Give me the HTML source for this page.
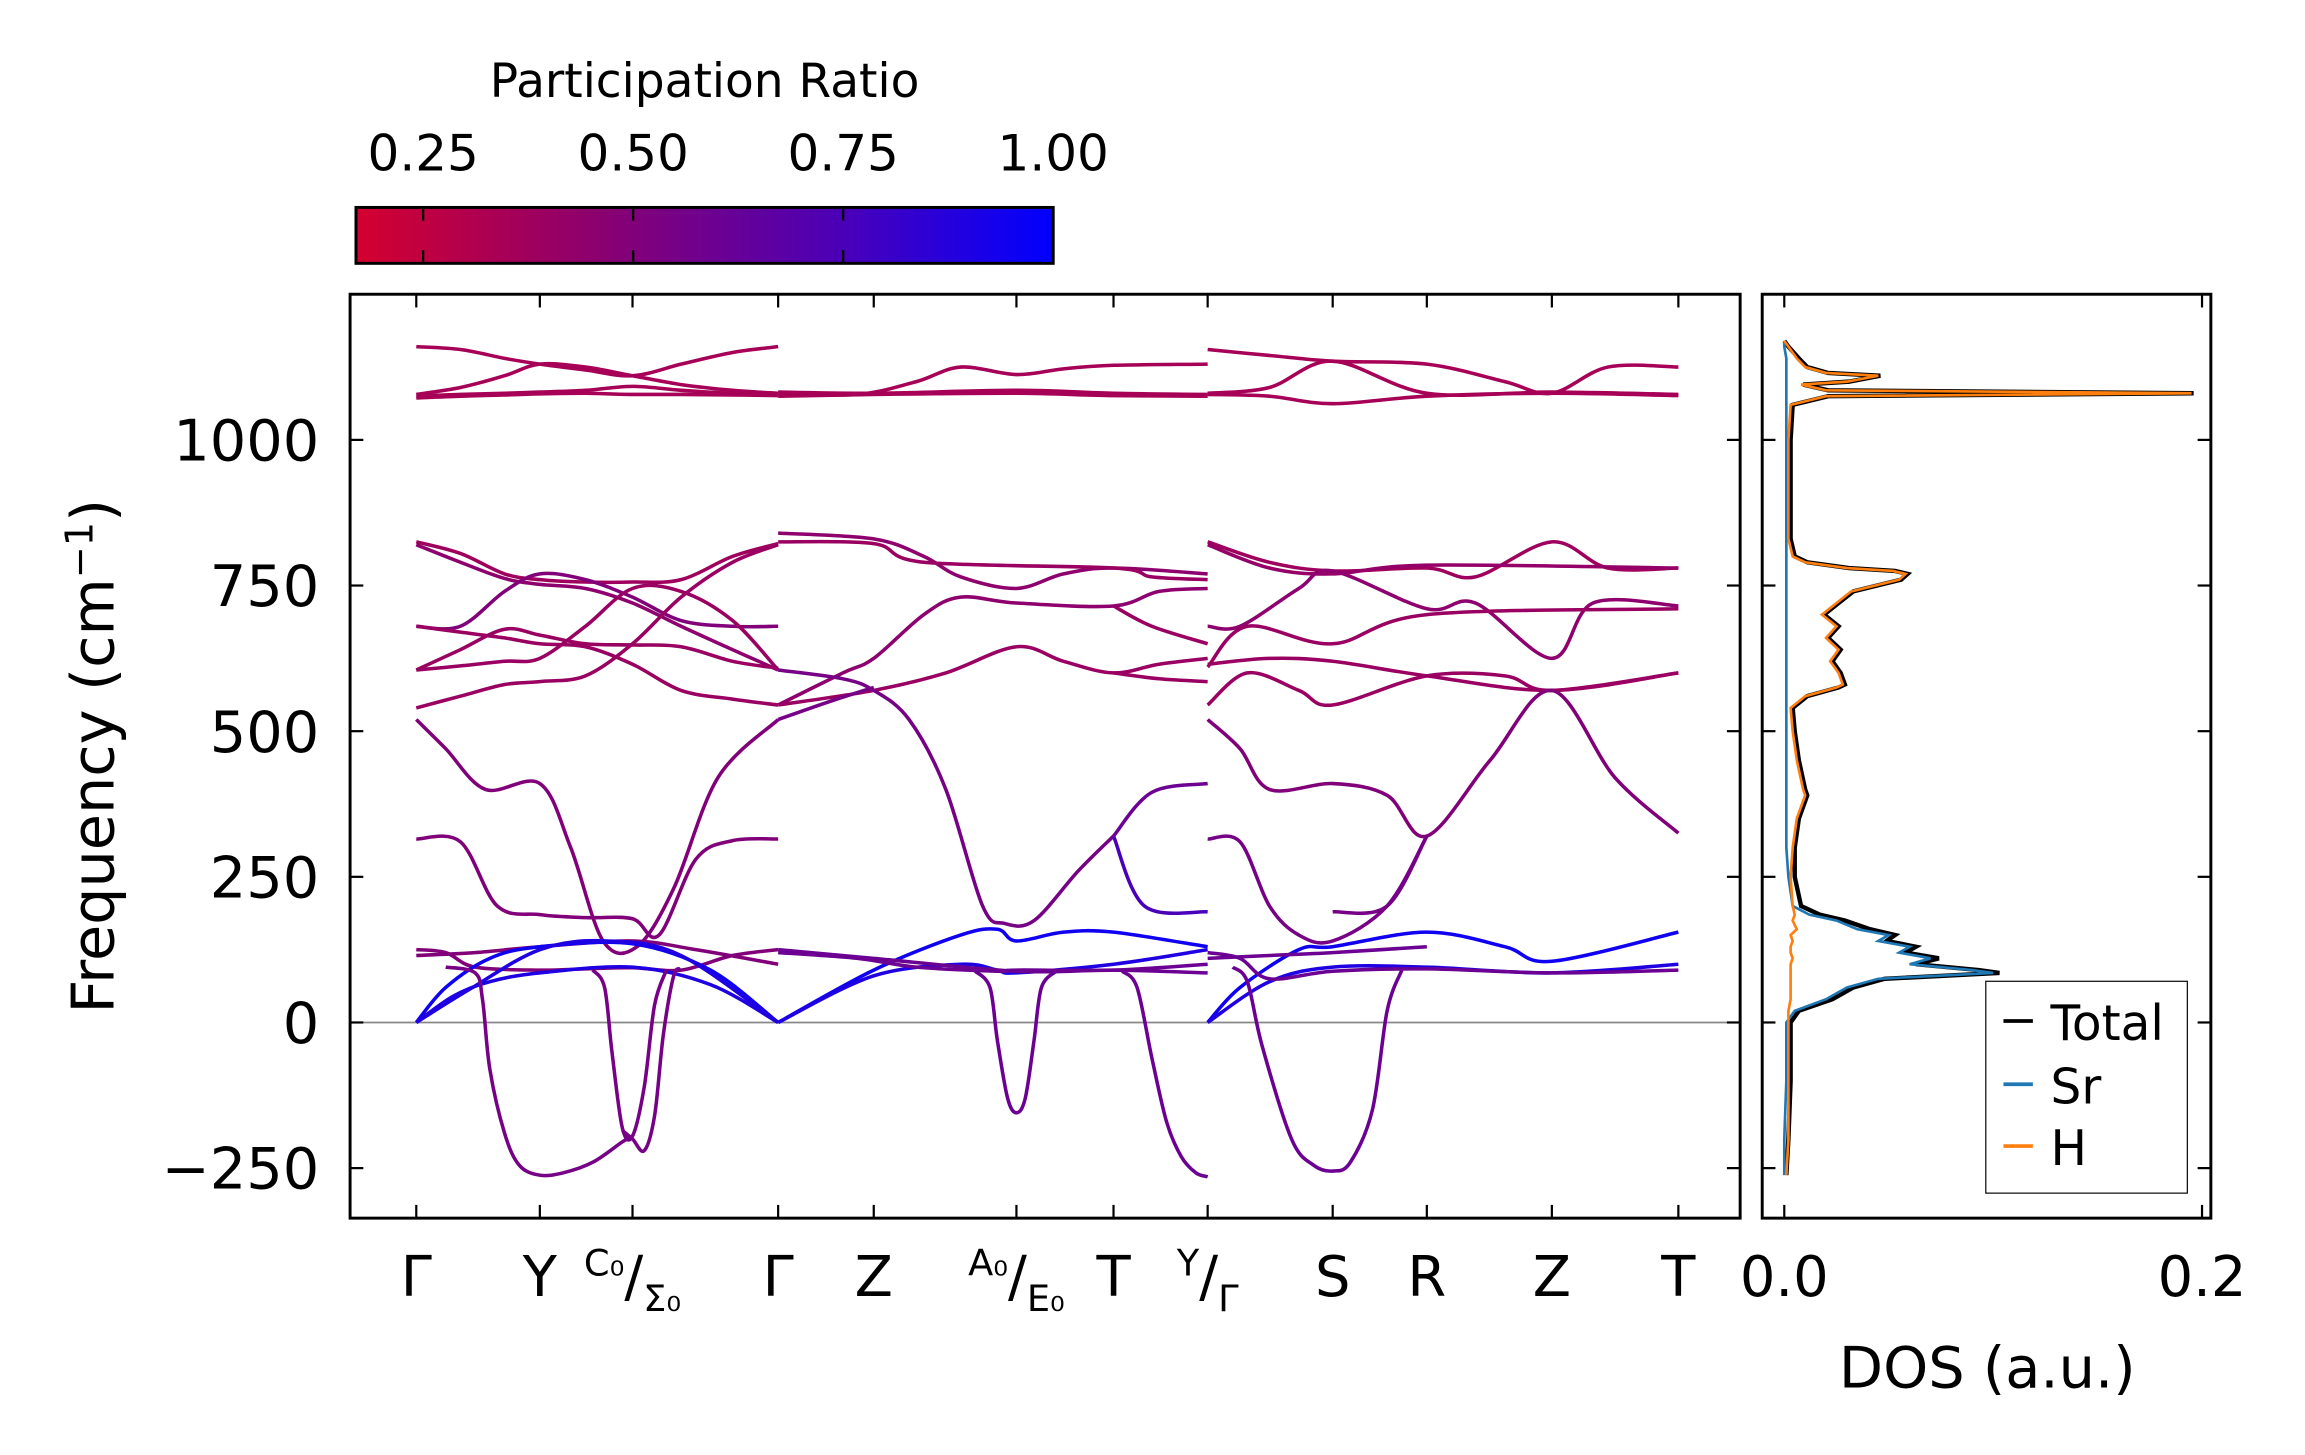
<!DOCTYPE html>
<html><head><meta charset="utf-8"><style>
html,body{margin:0;padding:0;background:#fff;}
svg{display:block;font-family:"DejaVu Sans","Liberation Sans",sans-serif;}
</style></head><body>
<svg id="chart" width="2305" height="1455" viewBox="0 0 1567 989" preserveAspectRatio="none" xmlns="http://www.w3.org/2000/svg">
<defs>
<linearGradient id="cbgrad" x1="0" x2="1" y1="0" y2="0">
<stop offset="0" stop-color="#d4002f"/>
<stop offset="0.35" stop-color="#8a0070"/>
<stop offset="0.7" stop-color="#4a00b8"/>
<stop offset="1" stop-color="#0000ff"/>
</linearGradient>
<clipPath id="mainclip"><rect x="238" y="200" width="945" height="628"/></clipPath>
<clipPath id="dosclip"><rect x="1198" y="200" width="305" height="628"/></clipPath>
</defs>
<g id="colorbar">
<text x="479" y="66" font-size="32" text-anchor="middle">Participation Ratio</text>
<rect x="242" y="141" width="474" height="38" fill="url(#cbgrad)" stroke="#000" stroke-width="2"/>
</g>
<g id="main">
<line x1="238" x2="1183" y1="695" y2="695" stroke="#888" stroke-width="1.2"/>
<g id="bands" clip-path="url(#mainclip)"></g>
<rect x="238" y="200" width="945" height="628" fill="none" stroke="#000" stroke-width="2"/>
<g id="mainticks"></g>
<text transform="translate(77,514) rotate(-90)" font-size="40" text-anchor="middle">Frequency (cm<tspan font-size="26" dy="-14">−1</tspan><tspan dy="14">)</tspan></text>
</g>
<g id="dos">
<g id="doslines" clip-path="url(#dosclip)"></g>
<rect x="1198" y="200" width="305" height="628" fill="none" stroke="#000" stroke-width="2"/>
<g id="dosticks"></g>
<text x="1351" y="943" font-size="39" text-anchor="middle">DOS (a.u.)</text>
<g>
<rect x="1350" y="667" width="137" height="144" fill="#fff" stroke="#000" stroke-width="0.8"/>
<line x1="1362" x2="1382" y1="694" y2="694" stroke="#000" stroke-width="2.5"/>
<text x="1394" y="707" font-size="33">Total</text>
<line x1="1362" x2="1382" y1="737" y2="737" stroke="#1f77b4" stroke-width="2.5"/>
<text x="1394" y="750" font-size="33">Sr</text>
<line x1="1362" x2="1382" y1="779" y2="779" stroke="#ff7f0e" stroke-width="2.5"/>
<text x="1394" y="792" font-size="33">H</text>
</g>
</g>
</svg>
<script>
// ---------- data ----------
const yTicks = [-250, 0, 250, 500, 750, 1000];
const cbTicks = [0.25, 0.5, 0.75, 1.0];
const kLabels = ["Γ","Y","C0/Σ0","Γ","Z","A0/E0","T","Y/Γ","S","R","Z","T"];
const kPositions = [0,84,147,246,311,408,474,538,623,687,772,858];
const bandK1 = [0,30,60,84,115,147,180,215,246];
const seg1 = [
 [0.35,bandK1,[1160,1155,1140,1130,1120,1110,1130,1150,1160]],
 [0.35,bandK1,[1078,1090,1110,1130,1125,1110,1095,1085,1080]],
 [0.35,bandK1,[1075,1078,1080,1082,1085,1092,1085,1080,1078]],
 [0.35,bandK1,[1072,1075,1077,1079,1080,1078,1078,1077,1076]],
 [0.38,bandK1,[825,805,770,760,756,756,760,800,822]],
 [0.45,bandK1,[820,790,762,752,745,720,680,640,605]],
 [0.5,bandK1,[680,680,740,770,760,730,690,680,680]],
 [0.4,bandK1,[605,640,675,665,650,648,645,620,608]],
 [0.4,bandK1,[605,612,620,625,680,745,740,690,605]],
 [0.4,bandK1,[540,560,580,585,595,650,730,790,820]],
 [0.4,bandK1,[680,670,660,650,645,615,570,555,545]],
 [0.5,[0,20,47,84,105,127,150,175,205,246],[520,470,400,410,300,140,130,230,420,520]],
 [0.5,[0,30,55,84,115,147,165,190,215,246],[315,310,200,185,180,178,150,280,312,315]],
 [0.5,[0,20,40,84,115,147,180,215,246],[125,120,95,90,92,94,90,115,125]],
 [0.5,[0,40,84,147,190,246],[115,120,130,140,125,100]],
 [0.95,[0,20,50,84,147,200,246],[0,60,110,130,135,90,0]],
 [0.9,[0,25,50,84,147,200,246],[0,45,70,85,95,65,0]],
 [0.9,[0,35,84,130,180,246],[0,55,125,140,115,0]],
 [0.55,[20,40,45,50,60,70,84,100,120,140,147],[95,85,40,-80,-190,-245,-262,-258,-240,-205,-195]],
 [0.55,[120,128,133,140,147,155,162,170],[90,60,-50,-180,-195,-110,30,90]],
 [0.55,[140,147,155,162,168,175,180],[-185,-200,-220,-160,-20,80,92]]
];
const seg2 = [
 [0.35,[246,300,340,370,408,440,474,538],[1080,1078,1100,1125,1112,1122,1128,1130]],
 [0.35,[246,311,408,474,538],[1082,1080,1085,1080,1078]],
 [0.35,[246,311,408,474,538],[1075,1078,1080,1076,1075]],
 [0.45,[246,311,345,370,408,440,474,538],[840,830,800,765,745,770,780,770]],
 [0.4,[246,311,345,474,500,538],[825,822,790,780,765,760]],
 [0.45,[246,290,311,345,370,408,474,505,538],[545,600,625,700,730,720,715,740,745]],
 [0.4,[474,500,538],[715,680,650]],
 [0.4,[246,311,360,408,440,474,505,538],[545,570,600,645,620,600,615,625]],
 [0.4,[474,505,538],[600,590,585]],
 [0.55,[246,290,311,335,360,385,400,420,450,474],[605,590,570,520,400,200,170,175,260,320]],
 [0.55,[246,280,311],[520,550,575]],
 [0.6,[474,500,538],[320,395,410]],
 [0.75,[474,495,538],[320,200,190]],
 [0.95,[246,311,370,395,408,440,474,538],[0,90,150,160,140,155,155,130]],
 [0.9,[246,311,370,395,408,474,538],[0,80,100,90,85,100,125]],
 [0.6,[246,311,408,474,538],[125,110,88,90,85]],
 [0.6,[246,300,340,395,408,474,538],[120,110,95,88,90,90,100]],
 [0.6,[380,390,395,402,408,414,420,425,435],[88,60,-30,-130,-155,-130,-30,60,88]],
 [0.6,[480,490,500,510,520,530,538],[88,60,-60,-170,-230,-258,-265]]
];
const seg3 = [
 [0.35,[538,580,623,687,740,772,810,858],[1155,1145,1135,1130,1100,1080,1125,1125]],
 [0.35,[538,580,623,687,772,858],[1080,1090,1135,1080,1082,1078]],
 [0.35,[538,580,623,687,772,858],[1078,1075,1062,1075,1080,1076]],
 [0.38,[538,580,623,687,720,772,810,858],[825,790,775,780,765,825,780,780]],
 [0.42,[538,580,623,687,858],[820,780,770,785,780]],
 [0.45,[538,560,600,623,687,720,772,800,858],[680,680,745,775,710,720,625,720,715]],
 [0.4,[538,565,623,687,858],[610,680,650,700,710]],
 [0.4,[538,580,623,687,772,858],[615,625,620,595,570,600]],
 [0.4,[538,565,600,623,687,740,772,858],[545,600,570,545,595,595,570,600]],
 [0.5,[538,560,580,623,660,687,730,772,815,858],[520,470,400,410,390,320,450,570,420,325]],
 [0.55,[538,560,580,600,623,660,687],[315,310,200,150,140,200,320]],
 [0.55,[623,660,687],[190,200,320]],
 [0.95,[538,560,600,623,687,740,772,858],[0,60,125,130,155,130,105,155]],
 [0.9,[538,580,623,687,772,858],[0,70,95,95,85,100]],
 [0.6,[538,560,580,623,687,772,858],[120,110,75,88,92,85,90]],
 [0.6,[538,580,623,687],[110,115,120,130]],
 [0.6,[555,565,575,595,610,623,635,650,660,670],[95,70,-40,-200,-245,-255,-240,-150,20,90]]
];
// DOS
const dosFreq = [-262,-200,-100,0,20,40,60,75,85,90,100,110,120,130,140,150,160,175,185,200,250,300,350,390,400,450,500,540,560,575,580,600,620,640,660,680,700,720,740,760,770,775,780,790,800,830,1000,1060,1075,1080,1085,1095,1100,1110,1115,1125,1140,1160,1170];
const dosH = [0.001,0.002,0.002,0.002,0.002,0.003,0.003,0.003,0.003,0.003,0.003,0.004,0.003,0.003,0.004,0.003,0.006,0.004,0.005,0.004,0.003,0.004,0.006,0.01,0.009,0.006,0.004,0.003,0.01,0.025,0.028,0.026,0.022,0.026,0.02,0.025,0.018,0.025,0.032,0.055,0.058,0.052,0.03,0.01,0.004,0.002,0.002,0.003,0.02,0.195,0.02,0.008,0.03,0.045,0.02,0.01,0.006,0.002,0];
const dosSr = [0,0,0.001,0.001,0.005,0.02,0.03,0.045,0.1,0.09,0.06,0.07,0.055,0.06,0.045,0.05,0.035,0.025,0.012,0.004,0.002,0.001,0.001,0.001,0.001,0.001,0.001,0.001,0.001,0.001,0.001,0.001,0.001,0.001,0.001,0.001,0.001,0.001,0.001,0.001,0.001,0.001,0.001,0.001,0.001,0.001,0.001,0.001,0.001,0.001,0.001,0.001,0.001,0.001,0.001,0.001,0.001,0,0];
const dosTicks = [0.0, 0.2];

// ---------- axes ----------
const NS="http://www.w3.org/2000/svg";
const yS = f => 695 - f*(396/1000);
const kS = k => 283 + k;
const dS = d => 1213 + d*(284/0.2);
const cbS = v => 242 + (v-0.17)*(474/0.83);
function mk(tag, attrs, parent){const e=document.createElementNS(NS,tag);for(const a in attrs)e.setAttribute(a,attrs[a]);parent.appendChild(e);return e;}
function prColor(p){
  const t=Math.max(0,Math.min(1,(p-0.17)/0.83));
  const stops=[[0,[212,0,47]],[0.35,[138,0,112]],[0.7,[74,0,184]],[1,[0,0,255]]];
  for(let i=0;i<stops.length-1;i++){const a=stops[i],b=stops[i+1];if(t<=b[0]){const u=(t-a[0])/(b[0]-a[0]);return 'rgb('+a[1].map((c,j)=>Math.round(c+(b[1][j]-c)*u)).join(',')+')';}}
  return 'rgb(0,0,255)';
}
function smooth(pts){
  let d='M'+pts[0][0].toFixed(1)+','+pts[0][1].toFixed(1);
  for(let i=0;i<pts.length-1;i++){
    const p0=pts[Math.max(0,i-1)],p1=pts[i],p2=pts[i+1],p3=pts[Math.min(pts.length-1,i+2)];
    const c1=[p1[0]+(p2[0]-p0[0])/6,p1[1]+(p2[1]-p0[1])/6];
    const c2=[p2[0]-(p3[0]-p1[0])/6,p2[1]-(p3[1]-p1[1])/6];
    d+='C'+c1.map(v=>v.toFixed(1)).join(',')+' '+c2.map(v=>v.toFixed(1)).join(',')+' '+p2[0].toFixed(1)+','+p2[1].toFixed(1);
  }
  return d;
}
const bandsG=document.getElementById('bands');
[seg1,seg2,seg3].forEach(seg=>seg.forEach(b=>{
  const pts=b[1].map((k,i)=>[kS(k),yS(b[2][i])]);
  const p=mk('path',{d:smooth(pts),fill:'none',stroke:prColor(b[0]),'stroke-width':2.4},bandsG);
  
  
}));
const mt=document.getElementById('mainticks');
yTicks.forEach(v=>{
  const y=yS(v);
  mk('line',{x1:238,x2:247,y1:y,y2:y,stroke:'#000','stroke-width':1.5},mt);
  mk('line',{x1:1174,x2:1183,y1:y,y2:y,stroke:'#000','stroke-width':1.5},mt);
  const t=mk('text',{x:217,y:y+14,'font-size':39,'text-anchor':'end'},mt);
  t.textContent=v<0?'−'+Math.abs(v):String(v);
  
  
  mk('line',{x1:1198,x2:1207,y1:y,y2:y,stroke:'#000','stroke-width':1.5},mt);
  mk('line',{x1:1494,x2:1503,y1:y,y2:y,stroke:'#000','stroke-width':1.5},mt);
});
kPositions.forEach((k,i)=>{
  const x=kS(k);
  mk('line',{x1:x,x2:x,y1:200,y2:209,stroke:'#000','stroke-width':1.5},mt);
  mk('line',{x1:x,x2:x,y1:819,y2:828,stroke:'#000','stroke-width':1.5},mt);
  const lab=kLabels[i];
  if(lab.indexOf('/')>0){
    const parts=lab.split('/');
    const g=mk('text',{x:x,y:881,'font-size':38,'text-anchor':'middle'},mt);
    
    
    const s1=mk('tspan',{'font-size':25,dy:-14},g);s1.textContent=parts[0].replace('0','₀');
    const s2=mk('tspan',{dy:14},g);s2.textContent='/';
    const s3=mk('tspan',{'font-size':25,dy:10},g);s3.textContent=parts[1].replace('0','₀');
  } else {
    const t=mk('text',{x:x,y:881,'font-size':38,'text-anchor':'middle'},mt);
    t.textContent=lab;
    
    
  }
});
const cb=document.getElementById('colorbar');
cbTicks.forEach(v=>{
  const x=cbS(v);
  mk('line',{x1:x,x2:x,y1:141,y2:150,stroke:'#000','stroke-width':1.5},cb);
  mk('line',{x1:x,x2:x,y1:170,y2:179,stroke:'#000','stroke-width':1.5},cb);
  const t=mk('text',{x:x,y:116,'font-size':34,'text-anchor':'middle'},cb);
  t.textContent=v.toFixed(2);
  
  
});
const dl=document.getElementById('doslines');
const ptsSr=dosFreq.map((f,i)=>[dS(dosSr[i]),yS(f)]);
const ptsH=dosFreq.map((f,i)=>[dS(dosH[i]),yS(f)]);
const ptsT=dosFreq.map((f,i)=>[dS(dosH[i]+dosSr[i]),yS(f)]);
const lin=p=>'M'+p.map(q=>q[0].toFixed(1)+','+q[1].toFixed(1)).join('L');
const pt=mk('path',{d:lin(ptsT),fill:'none',stroke:'#000','stroke-width':3},dl);


const ps=mk('path',{d:lin(ptsSr),fill:'none',stroke:'#1f77b4','stroke-width':1.8},dl);


const ph=mk('path',{d:lin(ptsH),fill:'none',stroke:'#ff7f0e','stroke-width':1.8},dl);


const dt=document.getElementById('dosticks');
dosTicks.forEach(v=>{
  const x=dS(v);
  mk('line',{x1:x,x2:x,y1:200,y2:209,stroke:'#000','stroke-width':1.5},dt);
  mk('line',{x1:x,x2:x,y1:819,y2:828,stroke:'#000','stroke-width':1.5},dt);
  const t=mk('text',{x:x,y:881,'font-size':38,'text-anchor':'middle'},dt);
  t.textContent=v.toFixed(1);
  
  
});
</script>
</body></html>
